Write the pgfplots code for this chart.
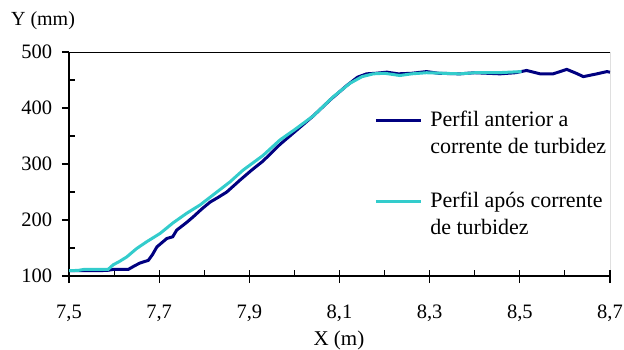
\documentclass[border=0pt]{standalone}
\usepackage{pgfplots}
\pgfplotsset{compat=1.18}
\usepackage{fontspec}
\setmainfont{Liberation Serif}
\definecolor{navyc}{RGB}{0,0,128}
\definecolor{cyanc}{RGB}{51,204,204}
\begin{document}
\fontsize{20bp}{24bp}\selectfont
\begin{tikzpicture}
\begin{axis}[
  at={(69bp,74bp)}, anchor=south west,
  scale only axis, width=541bp, height=224bp,
  xmin=7.5, xmax=8.7, ymin=100, ymax=500,
  xtick={7.5,7.7,7.9,8.1,8.3,8.5,8.7},
  minor xtick={7.5,7.6,7.7,7.8,7.9,8.0,8.1,8.2,8.3,8.4,8.5,8.6,8.7},
  ytick={100,200,300,400,500},
  minor ytick={150,250,350,450},
  axis lines=left,
  axis line style={-, line width=1.3bp, black},
  tick style={black, line width=1.1bp},
  tick align=inside, major tick length=7bp, minor tick length=6bp,
  every major y tick/.append style={xshift=-7bp},
  every major x tick/.append style={yshift=-7bp},
  /pgf/number format/assume math mode=true,
  tick label style={font=\fontsize{20.5bp}{24bp}\selectfont},
  xticklabel style={yshift=-22bp, /pgf/number format/.cd, use comma, fixed, fixed zerofill, precision=1},
  yticklabel style={xshift=-10bp, /pgf/number format/.cd, fixed, 1000 sep={}},
  xlabel={X (m)},
  ylabel={Y (mm)},
  xlabel style={at={(axis description cs:0.499,0)}, anchor=center, yshift=-64bp, font=\fontsize{21bp}{24bp}\selectfont},
  ylabel style={rotate=-90, at={(axis description cs:-0.048,1.138)}, anchor=center, font=\fontsize{20bp}{24bp}\selectfont},
  legend style={draw=none, fill=none, at={(0.564,0.748)}, anchor=north west,
    inner sep=0pt, row sep=32bp, column sep=6bp,
    cells={align=left, inner sep=0pt},
    font=\fontsize{22bp}{27bp}\selectfont},
  legend cell align=left,
  legend image code/.code={\draw[#1, line width=3bp] (0bp,13bp) -- (45bp,13bp);},
]
\addplot[navyc, line width=3bp] coordinates {
(7.500,109.5) (7.530,109.5) (7.560,109.5) (7.585,110) (7.600,112) (7.632,112)
(7.645,118) (7.657,123) (7.676,128) (7.685,138) (7.695,152) (7.717,167)
(7.730,170) (7.739,182) (7.760,195) (7.776,206) (7.795,220) (7.813,232)
(7.830,240) (7.850,250) (7.879,271) (7.905,289) (7.930,305) (7.968,335)
(8.000,357) (8.042,386) (8.080,415) (8.116,440) (8.140,455) (8.160,461)
(8.180,462) (8.205,464) (8.230,461) (8.260,462) (8.293,465) (8.320,462)
(8.367,461) (8.400,463) (8.456,461) (8.490,463) (8.515,467) (8.545,461)
(8.574,461) (8.604,469) (8.625,462) (8.641,456) (8.671,461) (8.693,465)
(8.700,464)
};
\addlegendentry{Perfil anterior a\\corrente de turbidez}
\addplot[cyanc, line width=3bp] coordinates {
(7.500,109.5) (7.520,110) (7.535,112) (7.587,112) (7.598,120) (7.612,126)
(7.628,134) (7.650,149) (7.672,161) (7.702,176) (7.731,195) (7.761,212)
(7.791,227) (7.820,245) (7.857,268) (7.886,289) (7.930,315) (7.968,343)
(8.000,361) (8.042,386) (8.086,420) (8.123,444) (8.150,456) (8.175,461)
(8.200,462) (8.234,458) (8.260,461) (8.293,463) (8.330,462) (8.367,461)
(8.400,463) (8.450,463) (8.504,465)
};
\addlegendentry{Perfil após corrente\\de turbidez}
\draw[black, line width=1.3bp] (rel axis cs:0,1) -- (rel axis cs:1,1);
\draw[black, line width=0.8bp] (rel axis cs:1,1) -- (rel axis cs:1,0);
\end{axis}
\pgfresetboundingbox
\path[use as bounding box] (0,0) rectangle (624bp,350bp);
\end{tikzpicture}
\end{document}
